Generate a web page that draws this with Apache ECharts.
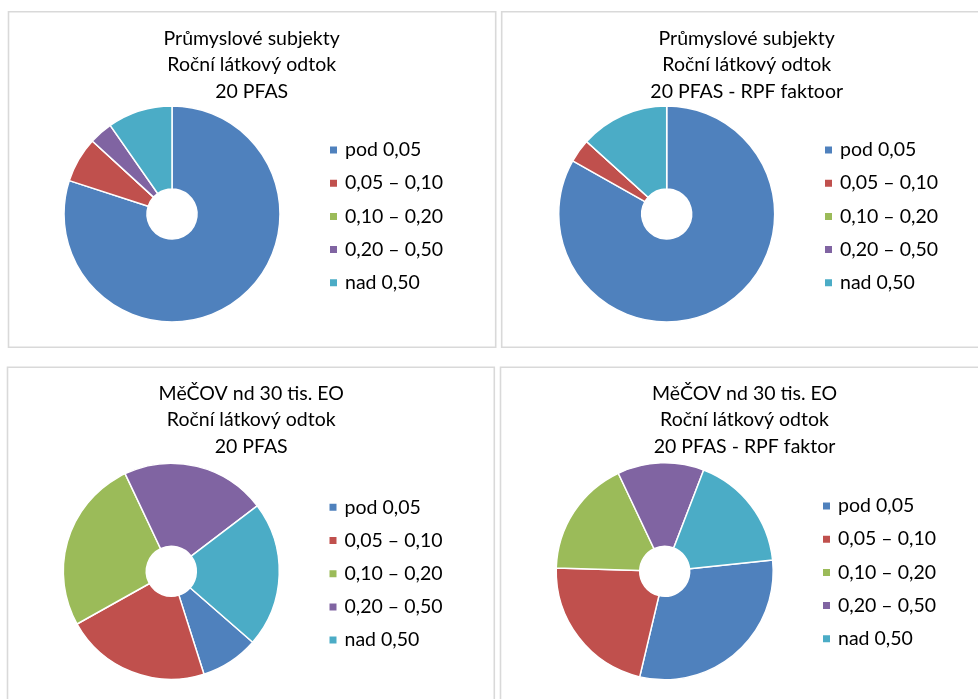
<!DOCTYPE html>
<html>
<head>
<meta charset="utf-8">
<script src="https://cdn.jsdelivr.net/npm/echarts@6/dist/echarts.min.js"></script>
<style>
  html, body { margin: 0; padding: 0; background: #ffffff; }
  #chart { width: 978px; height: 699px; }
</style>
</head>
<body>
<div id="chart"></div>
<script>
// ---- data ----
var categories = ['pod 0,05', '0,05 – 0,10', '0,10 – 0,20', '0,20 – 0,50', 'nad 0,50'];
var industry20 = [80.0, 6.8, 0, 3.5, 9.7];
var industryRpf = [83.2, 3.5, 0, 0, 13.3];
var wwtp20 = [8.7, 21.8, 26.1, 21.7, 21.8];
var wwtpRpf = [30.4, 21.8, 17.5, 12.9, 17.5];

var titles = [
  'Průmyslové subjekty\nRoční látkový odtok\n20 PFAS',
  'Průmyslové subjekty\nRoční látkový odtok\n20 PFAS - RPF faktoor',
  'MěČOV nd 30 tis. EO\nRoční látkový odtok\n20 PFAS',
  'MěČOV nd 30 tis. EO\nRoční látkový odtok\n20 PFAS - RPF faktor'
];
var seriesValues = [industry20, industryRpf, wwtp20, wwtpRpf];
var colors = ['#4F81BD', '#C0504D', '#9BBB59', '#8064A2', '#4BACC6'];

// ---- layout ----
var FONT = 'Lato, "Noto Sans", sans-serif';
var panels = [
  { center: [172, 214], r: 108, start: 90, titleX: 251.7, titleY: 25, legX: 328, legY: 140 },
  { center: [666.7, 214], r: 108, start: 90, titleX: 746.7, titleY: 25, legX: 823, legY: 140 },
  { center: [171.3, 571.3], r: 108, start: -41.1, titleX: 251.2, titleY: 380, legX: 327.5, legY: 497.3 },
  { center: [664.7, 571.3], r: 108.5, start: 6, titleX: 744.5, titleY: 380, legX: 821, legY: 496 }
];
var boxes = [
  [8.5, 11.8, 487.2, 335.5],
  [501.7, 11.8, 500, 335.5],
  [7.5, 367.3, 486.8, 400],
  [500.5, 367.3, 500, 400]
];

var option = {
  animation: false,
  backgroundColor: '#ffffff',
  color: colors,
  graphic: boxes.map(function (b) {
    return {
      type: 'rect',
      shape: { x: b[0], y: b[1], width: b[2], height: b[3] },
      style: { fill: 'none', stroke: '#D9D9D9', lineWidth: 1.6 },
      silent: true
    };
  }),
  title: panels.map(function (p, i) {
    return {
      text: titles[i],
      left: p.titleX,
      top: p.titleY,
      textAlign: 'center',
      textVerticalAlign: 'top',
      padding: 0,
      textStyle: { fontFamily: FONT, fontSize: 19.5, fontWeight: 'normal', color: '#000', lineHeight: 26.5 }
    };
  }),
  legend: panels.map(function (p) {
    return {
      data: categories,
      orient: 'vertical',
      left: p.legX,
      top: p.legY,
      padding: 0,
      itemWidth: 9,
      itemHeight: 9,
      itemGap: 13.2,
      icon: 'rect',
      selectedMode: false,
      textStyle: { fontFamily: FONT, fontSize: 19.5, color: '#000', lineHeight: 20, padding: [0, 0, 0, 2] }
    };
  }),
  series: panels.map(function (p, i) {
    return {
      type: 'pie',
      center: p.center,
      radius: [25, p.r],
      startAngle: p.start,
      clockwise: true,
      label: { show: false },
      labelLine: { show: false },
      emphasis: { disabled: true },
      itemStyle: { borderColor: '#ffffff', borderWidth: 1.5 },
      data: categories.map(function (c, k) { return { name: c, value: seriesValues[i][k] }; })
    };
  })
};

var chart = echarts.init(document.getElementById('chart'), null, { renderer: 'canvas' });
chart.setOption(option);
</script>
</body>
</html>
